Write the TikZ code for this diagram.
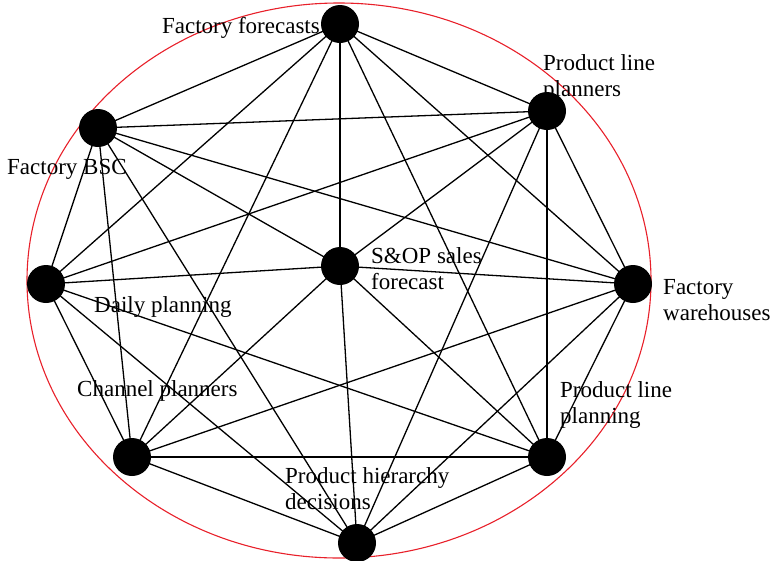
\documentclass[tikz,border=0pt]{standalone}
\usepackage{fontspec}
\setmainfont{Liberation Serif}
\usepackage{xcolor}
\usepackage{tikz}
\usetikzlibrary{positioning}
\definecolor{RingRed}  {HTML}{E8202A}
\definecolor{DotBlack} {HTML}{000000}

\begin{document}
\begin{tikzpicture}[x=1pt,y=-1pt,
    dot/.style={circle,fill=DotBlack,inner sep=0pt,minimum size=38pt},
    tag/.style={inner sep=0pt,align=left,font=\fontsize{23}{26}\selectfont},
    link/.style={draw=DotBlack,line width=1.3pt}]
  \useasboundingbox (0,0) rectangle (775,560);
  \draw[RingRed,line width=1.1pt] (339,280.5) ellipse [x radius=312pt,y radius=277.5pt];
  % hubs
  \node[dot] (ff)  at (340,24)  {};
  \node[dot] (plp) at (547,111) {};
  \node[dot] (bsc) at (98,128)  {};
  \node[dot] (dp)  at (46,284)  {};
  \node[dot] (sop) at (340,266) {};
  \node[dot] (fw)  at (633,284) {};
  \node[dot] (cp)  at (132,457) {};
  \node[dot] (plg) at (547,457) {};
  \node[dot] (ph)  at (357,543) {};
  % labels (base = last line)
  \node[tag,anchor=base east] (ffL)  at (320,33)  {Factory forecasts};
  \node[tag,anchor=base west] (plpL) at (543,96)  {Product line\\planners};
  \node[tag,anchor=base west] (bscL) at (7,174)   {Factory BSC};
  \node[tag,anchor=base west] (dpL)  at (94,312)  {Daily planning};
  \node[tag,anchor=base west] (sopL) at (371,289) {S\&OP sales\\forecast};
  \node[tag,anchor=base west] (fwL)  at (663,320) {Factory\\warehouses};
  \node[tag,anchor=base west] (cpL)  at (77,396)  {Channel planners};
  \node[tag,anchor=base west] (plgL) at (560,423) {Product line\\planning};
  \node[tag,anchor=base west] (phL)  at (285,509) {Product hierarchy\\decisions};
  % links
  \foreach \a/\b in {ff/plp,ff/fw,ff/plg,ff/cp,ff/dp,ff/bsc,
                     plp/fw,plp/plg,plp/ph,plp/dp,plp/bsc,
                     fw/plg,fw/ph,fw/cp,fw/bsc,
                     plg/ph,plg/cp,plg/dp,
                     ph/cp,ph/dp,ph/bsc,
                     cp/dp,cp/bsc,dp/bsc}
    \draw[link] (\a.center) -- (\b.center);
  \foreach \b in {ff,plp,fw,plg,ph,cp,dp,bsc}
    \draw[link] (sop.center) -- (\b.center);
\end{tikzpicture}
\end{document}
